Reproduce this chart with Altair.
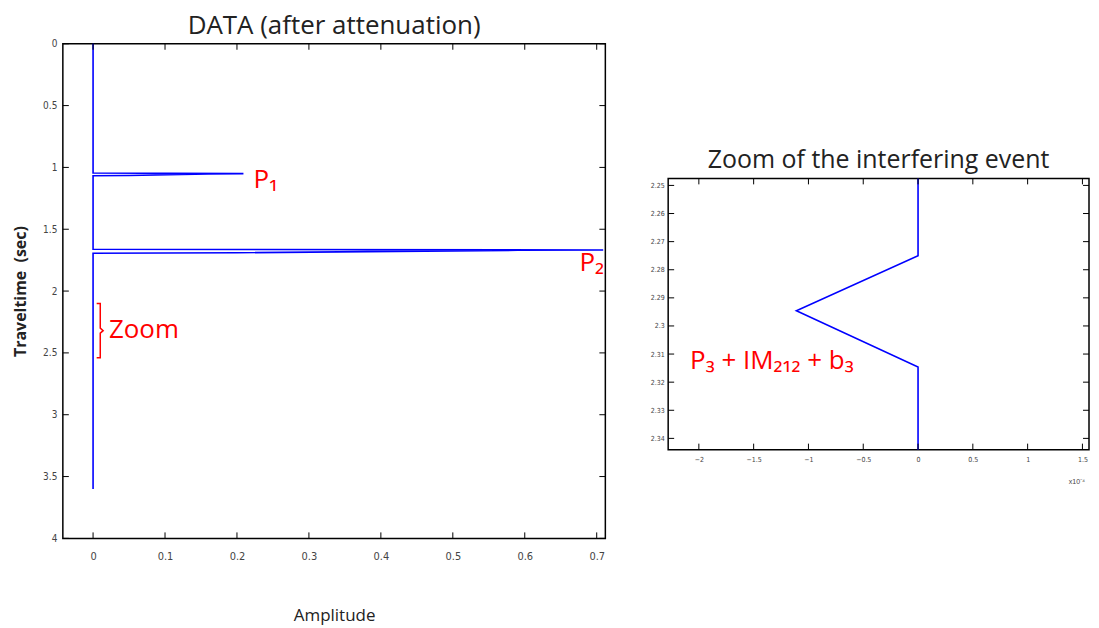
import altair as alt
import pandas as pd

# ---- main trace (amplitude vs traveltime) ----
main_time = [0.0, 1.045, 1.050, 1.053, 1.065, 1.068, 1.662, 1.668, 1.670, 1.690, 1.694, 3.6]
main_amp = [0.0, 0.0, 0.209, 0.16, 0.05, 0.0, 0.0, 0.709, 0.59, 0.20, 0.0, 0.0]

main_x_ticks = [0, 0.1, 0.2, 0.3, 0.4, 0.5, 0.6, 0.7]
main_y_ticks = [0, 0.5, 1, 1.5, 2, 2.5, 3, 3.5, 4]

# ---- zoom trace ----
zoom_time = [2.2475, 2.275, 2.2946, 2.3146, 2.344]
zoom_amp = [0.0, 0.0, -1.11, 0.0, 0.0]  # x 1e-4

zoom_x_ticks = [-2, -1.5, -1, -0.5, 0, 0.5, 1, 1.5]
zoom_y_ticks = [2.25, 2.26, 2.27, 2.28, 2.29, 2.30, 2.31, 2.32, 2.33, 2.34]

# annotation
bracket_amp = [0.005, 0.010, 0.010, 0.014, 0.010, 0.010, 0.005]
bracket_time = [2.10, 2.10, 2.30, 2.32, 2.34, 2.54, 2.54]

W1, H1 = 544, 496
W2, H2 = 422, 272
BLUE = "#0000ff"
RED = "#ff0000"
FONT = "Open Sans"
TICKFONT = "DejaVu Sans Condensed, Liberation Sans"

df_main = pd.DataFrame({"t": main_time, "amp": main_amp, "i": range(len(main_time))})
df_zoom = pd.DataFrame({"t": zoom_time, "amp": zoom_amp, "i": range(len(zoom_time))})
df_br = pd.DataFrame({"t": bracket_time, "amp": bracket_amp, "i": range(len(bracket_time))})

xs1 = alt.Scale(domain=[-0.042, 0.712], nice=False, zero=False)
ys1 = alt.Scale(domain=[0, 4], reverse=True, nice=False, zero=False)
xs2 = alt.Scale(domain=[-2.28, 1.56], nice=False, zero=False)
ys2 = alt.Scale(domain=[2.2475, 2.344], reverse=True, nice=False, zero=False)

lab = dict(labelColor="#444", ticks=False, domain=False, grid=False,
           labelFont=TICKFONT, format="~g")

X1 = alt.X("amp:Q", scale=xs1, axis=alt.Axis(values=main_x_ticks, title="Amplitude",
           labelPadding=12, titlePadding=46, titleFontSize=17, titleFont=FONT, labelFontSize=11,
           titleFontWeight="normal", titleColor="#222", **lab))
Y1 = alt.Y("t:Q", scale=ys1, axis=alt.Axis(values=main_y_ticks, title="Traveltime\u00a0 (sec)",
           labelPadding=6, titlePadding=14, titleFontSize=16, titleFont=FONT, labelFontSize=10,
           titleFontWeight="bold", titleColor="#222", **lab))
X2 = alt.X("amp:Q", scale=xs2, axis=alt.Axis(values=zoom_x_ticks, title=None, labelPadding=6,
           labelFontSize=7, **lab))
Y2 = alt.Y("t:Q", scale=ys2, axis=alt.Axis(values=zoom_y_ticks, title=None, labelPadding=4,
           labelFontSize=7, **lab))

FRAME = alt.ViewBackground(stroke="black", strokeWidth=1.5)


def ticks(xv, yv, X, Y, W, H, L=6):
    dx = pd.DataFrame({"amp": xv})
    dy = pd.DataFrame({"t": yv})
    return [
        alt.Chart(dx).mark_rule(color="black").encode(x=X, y=alt.value(H - L), y2=alt.value(H)),
        alt.Chart(dx).mark_rule(color="black").encode(x=X, y=alt.value(0), y2=alt.value(L)),
        alt.Chart(dy).mark_rule(color="black").encode(y=Y, x=alt.value(0), x2=alt.value(L)),
        alt.Chart(dy).mark_rule(color="black").encode(y=Y, x=alt.value(W - L), x2=alt.value(W)),
    ]


main_line = alt.Chart(df_main).mark_line(color=BLUE, strokeWidth=1.6).encode(x=X1, y=Y1, order="i:Q")

bracket = alt.Chart(df_br).mark_line(color=RED, strokeWidth=1.5).encode(x=X1, y=Y1, order="i:Q")

df_lbl1 = pd.DataFrame({"amp": [0.223, 0.676], "t": [1.169, 1.839], "txt": ["P₁", "P₂"]})
labels1 = alt.Chart(df_lbl1).mark_text(color=RED, fontSize=26, font=FONT, align="left",
                                       baseline="alphabetic").encode(x=X1, y=Y1, text="txt:N")
df_zoomlbl = pd.DataFrame({"amp": [0.022], "t": [2.379], "txt": ["Zoom"]})
zoomlbl = alt.Chart(df_zoomlbl).mark_text(color=RED, fontSize=26, font=FONT, align="left",
                                          baseline="alphabetic").encode(x=X1, y=Y1, text="txt:N")

left = alt.layer(main_line, bracket, labels1, zoomlbl,
                 *ticks(main_x_ticks, main_y_ticks, X1, Y1, W1, H1)).properties(
    width=W1, height=H1, view=FRAME,
    title=alt.TitleParams("DATA (after attenuation)", fontSize=26, font=FONT, fontWeight="normal",
                          offset=0, color="#222"),
)

zoom_line = alt.Chart(df_zoom).mark_line(color=BLUE, strokeWidth=1.6).encode(x=X2, y=Y2, order="i:Q")

df_lbl2 = pd.DataFrame({"amp": [-2.08], "t": [2.3154], "txt": ["P₃ + IM₂₁₂ + b₃"]})
labels2 = alt.Chart(df_lbl2).mark_text(color=RED, fontSize=26, font=FONT, align="left",
                                       baseline="alphabetic").encode(x=X2, y=Y2, text="txt:N")

df_exp = pd.DataFrame({"amp": [1.45], "t": [2.3554], "txt": ["x10⁻⁴"]})
exp_lbl = alt.Chart(df_exp).mark_text(color="#444", fontSize=7, font="Liberation Sans", align="center",
                                      baseline="middle").encode(x=X2, y=Y2, text="txt:N")

right = alt.layer(zoom_line, labels2, exp_lbl,
                  *ticks(zoom_x_ticks, zoom_y_ticks, X2, Y2, W2, H2)).properties(
    width=W2, height=H2, view=FRAME,
    title=alt.TitleParams("Zoom of the interfering event", fontSize=25, font=FONT, fontWeight="normal",
                          offset=2, color="#222"),
)

spacer = alt.Chart(pd.DataFrame({"a": [0]})).mark_point(opacity=0).encode(
    x=alt.X("a:Q", axis=None), y=alt.Y("a:Q", axis=None)
).properties(width=1, height=104, view=alt.ViewBackground(stroke=None))

chart = alt.hconcat(left, alt.vconcat(spacer, right, spacing=0), spacing=42).properties(
    padding={"left": 3, "top": 3, "right": 0, "bottom": 0}
).configure(background="white")

chart.save("out.html", embed_options={"renderer": "svg", "actions": False})
